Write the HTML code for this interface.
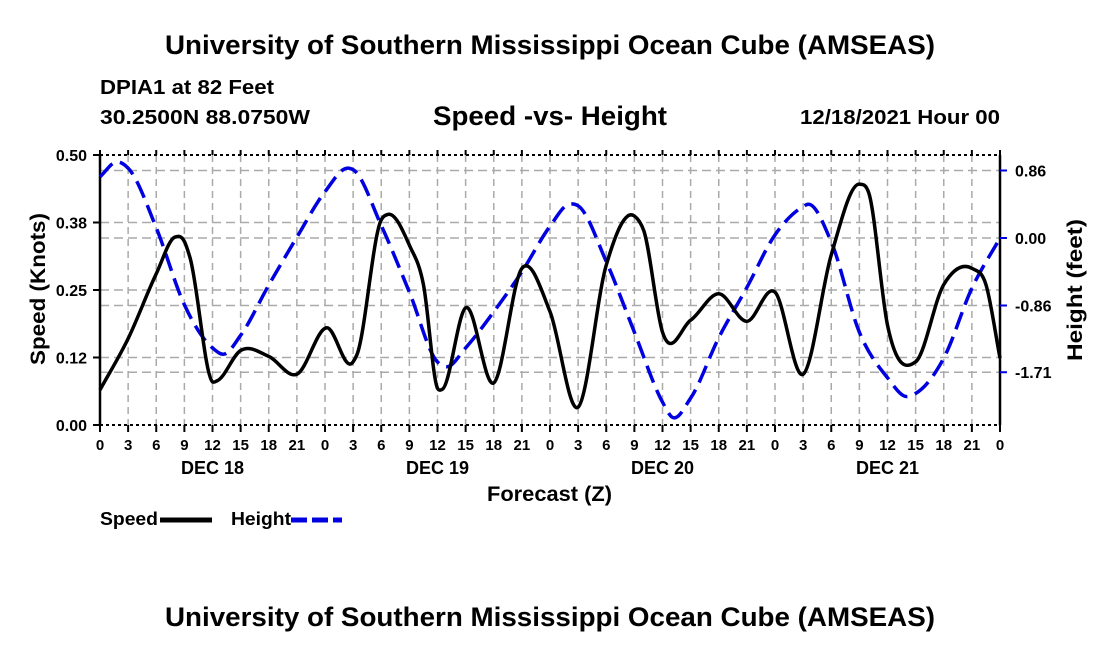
<!DOCTYPE html>
<html><head><meta charset="utf-8"><style>
body{margin:0;background:#fff;}
svg{display:block;font-family:"Liberation Sans",Arial,sans-serif;font-weight:bold;}
</style></head><body>
<svg id="chart" width="1100" height="650" viewBox="0 0 1100 650">
<text x="165" y="54" font-size="27" textLength="770" lengthAdjust="spacingAndGlyphs">University of Southern Mississippi Ocean Cube (AMSEAS)</text>
<text x="100" y="94" font-size="20" textLength="174" lengthAdjust="spacingAndGlyphs">DPIA1 at 82 Feet</text>
<text x="100" y="124" font-size="20" textLength="210" lengthAdjust="spacingAndGlyphs">30.2500N  88.0750W</text>
<text x="433" y="125" font-size="27" textLength="234" lengthAdjust="spacingAndGlyphs">Speed -vs- Height</text>
<text x="800" y="124" font-size="20" textLength="200" lengthAdjust="spacingAndGlyphs">12/18/2021 Hour 00</text>
<g id="grid"></g><g id="axes"></g><g id="series"></g>
<text transform="translate(45,289) rotate(-90)" font-size="21" text-anchor="middle" textLength="152" lengthAdjust="spacingAndGlyphs">Speed (Knots)</text>
<text transform="translate(1082,290) rotate(-90)" font-size="21" text-anchor="middle" textLength="142" lengthAdjust="spacingAndGlyphs">Height (feet)</text>
<text x="487" y="501" font-size="21" textLength="125" lengthAdjust="spacingAndGlyphs">Forecast (Z)</text>
<g><text x="100" y="525" font-size="18" textLength="58" lengthAdjust="spacingAndGlyphs">Speed</text><line x1="160" y1="520" x2="212" y2="520" stroke="#000" stroke-width="5"/></g>
<g><text x="231" y="525" font-size="18" textLength="60" lengthAdjust="spacingAndGlyphs">Height</text><line x1="291" y1="520" x2="342" y2="520" stroke="#0000e0" stroke-width="5" stroke-dasharray="16,5"/></g>
<text x="165" y="626" font-size="27" textLength="770" lengthAdjust="spacingAndGlyphs">University of Southern Mississippi Ocean Cube (AMSEAS)</text>
</svg>
<script>
const speedHours=[0,3,6,8,9,9.6,12,12.5,15,18,21,24.2,27,27.4,30,30.7,33,34.5,36,36.5,39,42,45,48,51,54,57,58,60,63,66,69,72,75,78,81,82,84,87,90,93,94.5,96];
const speedVals=[0.065,0.16,0.28,0.348,0.34,0.31,0.08,0.082,0.138,0.127,0.094,0.18,0.117,0.13,0.38,0.39,0.333,0.26,0.068,0.066,0.217,0.078,0.29,0.21,0.033,0.296,0.387,0.36,0.172,0.194,0.243,0.192,0.246,0.094,0.315,0.446,0.43,0.185,0.117,0.26,0.29,0.26,0.124];
const heightHours=[0,1.8,3,6,9,12,13.2,15,18,21,24,26.5,27,30,33,36,37,39,42,45,48,50,51,54,57,60,61,63,66,69,72,75,75.5,78,81,84,86,87,90,93,96];
const heightVals=[0.78,0.97,0.89,0.13,-0.85,-1.4,-1.48,-1.24,-0.6,0.01,0.59,0.89,0.87,0.16,-0.69,-1.58,-1.64,-1.4,-0.94,-0.43,0.15,0.43,0.41,-0.3,-1.2,-2.09,-2.28,-2.04,-1.27,-0.63,0.04,0.4,0.43,-0.05,-1.2,-1.78,-2.02,-1.98,-1.53,-0.64,0.0];
const xTickLabels=["0","3","6","9","12","15","18","21"];
const dayLabels=["DEC 18","DEC 19","DEC 20","DEC 21"];
const speedTicks=[0,0.125,0.25,0.375,0.5];
const speedTickLabels=["0.00","0.12","0.25","0.38","0.50"];
const heightTicks=[0.86,0,-0.86,-1.71];
const heightTickLabels=["0.86","0.00","-0.86","-1.71"];

const X0=100,X1=1000,Y0=425,Y1=155;
const xs=h=>X0+(X1-X0)*h/96;
const ys=v=>Y0-(Y0-Y1)*v/0.5;
const yh=v=>238-78.5*v;
const NS="http://www.w3.org/2000/svg";
function mk(tag,attrs,parent){const e=document.createElementNS(NS,tag);for(const k in attrs)e.setAttribute(k,attrs[k]);parent.appendChild(e);return e;}
const grid=document.getElementById('grid'),axes=document.getElementById('axes'),series=document.getElementById('series');
for(let i=1;i<32;i++){const x=xs(i*3);
 const l=mk('line',{x1:x,y1:Y1,x2:x,y2:Y0,stroke:'#aaa','stroke-width':1.5,'stroke-dasharray':'7,5'},grid);
 
 }
speedTicks.slice(1,4).forEach(v=>{const l=mk('line',{x1:X0,y1:ys(v),x2:X1,y2:ys(v),stroke:'#aaa','stroke-width':1.5,'stroke-dasharray':'9,5'},grid);
 
 });
heightTicks.forEach(v=>{const l=mk('line',{x1:X0,y1:yh(v),x2:X1,y2:yh(v),stroke:'#aaa','stroke-width':1.5,'stroke-dasharray':'9,5'},grid);
 
 });
mk('line',{x1:X0,y1:Y1,x2:X1,y2:Y1,stroke:'#000','stroke-width':2,'stroke-dasharray':'3,3'},axes);
mk('line',{x1:X0,y1:Y0,x2:X1,y2:Y0,stroke:'#000','stroke-width':2,'stroke-dasharray':'3,3'},axes);
mk('line',{x1:X0,y1:Y1,x2:X0,y2:Y0,stroke:'#000','stroke-width':2.5},axes);
mk('line',{x1:X1,y1:Y1,x2:X1,y2:Y0,stroke:'#000','stroke-width':2.5},axes);
for(let i=0;i<=32;i++){const x=xs(i*3);
 mk('line',{x1:x,y1:Y0,x2:x,y2:Y0+7,stroke:'#000','stroke-width':2},axes);
 mk('line',{x1:x,y1:Y1,x2:x,y2:Y1-5,stroke:'#000','stroke-width':2},axes);
 const t=mk('text',{x:x,y:450,'font-size':15,'text-anchor':'middle'},axes);
 t.textContent=i===32?"0":xTickLabels[i%8];
 
 }
dayLabels.forEach((d,i)=>{const t=mk('text',{x:xs(i*24+12),y:474,'font-size':18,'text-anchor':'middle'},axes);
 t.textContent=d;
 
 });
speedTicks.forEach((v,i)=>{mk('line',{x1:X0-7,y1:ys(v),x2:X0,y2:ys(v),stroke:'#000','stroke-width':2},axes);
 const t=mk('text',{x:X0-13,y:ys(v)+6,'font-size':16,'text-anchor':'end'},axes);
 t.textContent=speedTickLabels[i];
 
 });
heightTicks.forEach((v,i)=>{mk('line',{x1:X1,y1:yh(v),x2:X1+7,y2:yh(v),stroke:'#0000e0','stroke-width':2},axes);
 const t=mk('text',{x:X1+15,y:yh(v)+6,'font-size':16},axes);
 t.textContent=heightTickLabels[i];
 
 });
function smooth(pts){
 const n=pts.length,m=[];
 for(let i=0;i<n;i++){
  if(i===0)m.push((pts[1][1]-pts[0][1])/(pts[1][0]-pts[0][0]));
  else if(i===n-1)m.push((pts[n-1][1]-pts[n-2][1])/(pts[n-1][0]-pts[n-2][0]));
  else{const d0=(pts[i][1]-pts[i-1][1])/(pts[i][0]-pts[i-1][0]),d1=(pts[i+1][1]-pts[i][1])/(pts[i+1][0]-pts[i][0]);
   const h0=pts[i][0]-pts[i-1][0],h1=pts[i+1][0]-pts[i][0];
   m.push((d0*h1+d1*h0)/(h0+h1));}
 }
 let d=`M${pts[0][0]},${pts[0][1]}`;
 for(let i=0;i<n-1;i++){const h=pts[i+1][0]-pts[i][0];
  d+=` C${pts[i][0]+h/3},${pts[i][1]+m[i]*h/3} ${pts[i+1][0]-h/3},${pts[i+1][1]-m[i+1]*h/3} ${pts[i+1][0]},${pts[i+1][1]}`;}
 return d;}
const hp=mk('path',{d:smooth(heightHours.map((h,i)=>[xs(h),yh(heightVals[i])])),fill:'none',stroke:'#0000e0','stroke-width':3.5,'stroke-dasharray':'18,8'},series);


const sp=mk('path',{d:smooth(speedHours.map((h,i)=>[xs(h),ys(speedVals[i])])),fill:'none',stroke:'#000','stroke-width':3.5},series);


</script>
</body></html>
